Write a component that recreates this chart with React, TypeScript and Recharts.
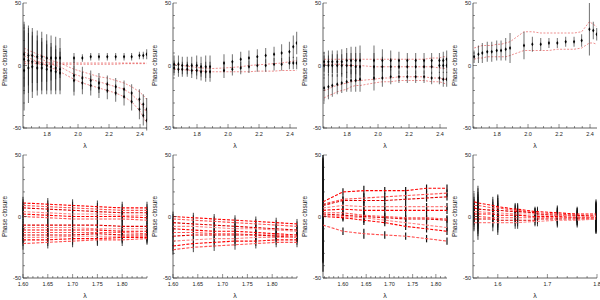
import React from 'react';
import { ComposedChart, Line, XAxis, YAxis, ErrorBar } from 'recharts';

// wavelength grids (microns)
const lamTop = [1.652, 1.68, 1.705, 1.737, 1.766, 1.798, 1.826, 1.856, 1.884, 1.974, 2.028, 2.082, 2.135, 2.189, 2.243, 2.297, 2.346, 2.396, 2.421, 2.443];
const lam5 = [1.60, 1.65, 1.70, 1.75, 1.80, 1.85];
const lam6 = [1.60, 1.641, 1.683, 1.725, 1.767, 1.808, 1.85];
const lam7 = [1.557, 1.60, 1.645, 1.69, 1.735, 1.78, 1.824];
const lam8 = [1.552, 1.56, 1.59, 1.60, 1.635, 1.64, 1.675, 1.68, 1.72, 1.76, 1.798];

// tick labels
const yMajor = [-50, 0, 50];
const xMajorTop = [1.8, 2.0, 2.2, 2.4];
const xMajorH = [1.6, 1.65, 1.7, 1.75, 1.8];
const xMajor8 = [1.6, 1.7, 1.8];

// panel 1 - measured closure phases and models
const p1a = [9, 8, 8, 7, 7, 6, 6, 6, 6, 6, 6, 7, 7, 7, 7, 7, 7, 8, 8, 9];
const p1aE = [26, 24, 22, 21, 20, 19, 18, 17, 16, 4, 3, 3, 3, 3, 3, 3, 3, 3, 3, 4];
const p1b = [5, 4, 3, 2, 1, 0, -1, -2, -3, -8, -10, -12, -14, -15, -17, -19, -22, -27, -31, -35];
const p1bE = [28, 26, 24, 22, 21, 20, 19, 18, 17, 13, 9, 8, 8, 7, 7, 7, 7, 8, 8, 9];
const p1c = [-4, -2, -1, -2, -2, -3, -4, -5, -6, -12, -14, -16, -18, -20, -22, -25, -29, -35, -40, -44];
const p1cE = [32, 28, 25, 22, 21, 20, 19, 18, 17, 12, 9, 8, 8, 7, 7, 7, 7, 8, 8, 8];
const m1a = [3, 3, 3, 3, 2.5, 2.5, 2, 2, 2, 2, 2, 2, 2, 2, 2, 2, 2, 2, 2, 2];
const m1b = [1.5, 1.5, 1.5, 1.5, 1, 1, 1, 1, 1, 1, 1, 1, 1, 1, 1, 1.5, 1.5, 1.5, 1.5, 1.5];
const m1c = [14, 12, 11, 9, 8, 6, 4, 3, 2, -3, -5, -7, -9, -10, -12, -14, -17, -21, -24, -27];
const m1d = [11, 9, 8, 6, 5, 3, 1, 0, -1, -7, -9, -11, -13, -15, -17, -19, -23, -29, -33, -38];
const m1e = [8, 6, 5, 3, 2, 0, -2, -3, -5, -11, -14, -16, -18, -20, -22, -25, -29, -36, -41, -46];

// panel 2
const p2a = [1, 1, 0, 0, 0, 0, -1, -1, -1, 2, 3, 5, 6, 7, 8, 9, 10, 11, 15, 18];
const p2aE = [7, 7, 7, 7, 7, 8, 8, 9, 9, 7, 6, 6, 6, 6, 6, 6, 7, 8, 9, 9];
const p2b = [-2, -3, -3, -3, -4, -4, -5, -5, -5, -4, -3, -2, -1, 0, 0, 1, 1, 2, 2, 2];
const p2bE = [6, 6, 6, 6, 6, 7, 7, 8, 8, 6, 5, 5, 5, 5, 5, 5, 5, 5, 5, 5];
const m2a = [1, 0.5, 0, -0.5, -1, -1.5, -2, -2, -2.5, -2, -1.5, -1, 0, 0.5, 1, 1.5, 2, 3, 3.5, 4];
const m2b = [-3, -3, -3.5, -3.5, -4, -4, -4.5, -4.5, -5, -5, -5, -5, -5, -4.5, -4.5, -4.5, -4, -4, -4, -4];

// panel 3
const p3a = [3, 3, 3, 3, 3, 4, 4, 4, 4, 4, 4, 4, 4, 4, 4, 4, 4, 4, 4, 5];
const p3aE = [8, 9, 9, 9, 10, 10, 11, 11, 12, 12, 9, 8, 7, 6, 6, 6, 6, 6, 7, 7];
const p3b = [0, 0, 0, 0, 0, 0, 0, -1, -1, -1, -1, -1, -1, -1, -1, -1, -1, 0, 0, 0];
const p3bE = [8, 8, 9, 9, 9, 10, 10, 11, 11, 11, 8, 7, 6, 6, 6, 6, 6, 6, 6, 6];
const p3c = [-18, -17, -16, -15, -14, -13, -12, -12, -11, -10, -10, -9, -9, -9, -9, -9, -10, -10, -11, -11];
const p3cE = [11, 10, 9, 8, 8, 8, 9, 9, 10, 10, 7, 6, 5, 5, 5, 5, 5, 5, 6, 6];
const m3a = [5, 5, 5, 5, 5, 5, 5, 5, 5, 5, 5, 5, 5, 5, 5, 5, 6, 6, 7, 7];
const m3b = [1, 1, 1, 1, 1, 0, 0, 0, 0, -1, -1, -1, -1, -1, -1, -1, -1, -2, -2, -3];
const m3c = [-20, -19, -17, -16, -15, -14, -13, -12, -12, -11, -10, -10, -9, -9, -9, -9, -10, -10, -11, -11];
const m3d = [-26, -24, -23, -21, -20, -19, -17, -16, -16, -14, -13, -13, -12, -12, -12, -12, -13, -13, -14, -15];

// panel 4
const p4a = [7, 9, 10, 11, 11, 12, 12, 13, 14, 16, 17, 17, 18, 18, 19, 19, 20, 29, 28, 25];
const p4aE = [5, 7, 8, 8, 8, 8, 8, 9, 12, 11, 6, 5, 4, 4, 4, 4, 5, 21, 7, 5];
const m4a = [14, 15, 16, 16, 16, 17, 17, 18, 19, 27, 27, 26, 26, 26, 26, 26, 27, 35, 33, 31];
const m4b = [5, 6, 6, 7, 7, 7, 7, 7, 8, 12, 12, 12, 12, 13, 13, 13, 14, 18, 18, 17];

// panel 5 - fitted closure phases (one line per triangle)
const f5 = [
  [11, 10, 9, 8, 7, 7],
  [9, 8, 7, 6, 5, 5],
  [7, 6, 5, 4, 3, 3],
  [4, 3, 2, 2, 1, 1],
  [2, 1, 0, 0, 0, -1],
  [0, -1, -2, -2, -2, -3],
  [-7, -7, -7, -7, -8, -8],
  [-9, -9, -9, -10, -10, -10],
  [-11, -11, -11, -11, -12, -12],
  [-13, -13, -13, -13, -13, -14],
  [-15, -15, -15, -14, -15, -15],
  [-17, -17, -16, -16, -16, -16],
  [-19, -19, -18, -18, -17, -17],
  [-22, -21, -20, -19, -19, -18],
];
const e5 = [5, 5, 5, 5, 5, 5];

// panel 6
const f6 = [
  [0, -1, -2, -3, -4, -5, -6],
  [-2, -3, -4, -5, -6, -7, -8],
  [-5, -6, -7, -8, -9, -10, -11],
  [-8, -8, -9, -10, -10, -11, -12],
  [-10, -11, -12, -12, -13, -14, -15],
  [-13, -13, -14, -14, -15, -15, -16],
  [-16, -15, -15, -15, -15, -16, -17],
  [-20, -19, -18, -18, -17, -17, -17],
  [-24, -22, -21, -20, -20, -19, -19],
  [-27, -25, -24, -23, -22, -21, -21],
];
const e6 = [4, 4, 4, 4, 4, 4, 4];

// panel 7
const f7 = [
  [12, 20, 21, 21, 21, 23, 23],
  [10, 14, 15, 16, 17, 18, 19],
  [9, 13, 13, 13, 14, 15, 16],
  [7, 9, 8, 8, 8, 8, 8],
  [5, 6, 5, 5, 5, 5, 5],
  [3, 3, 1, 0, -1, -1, -2],
  [2, 1, 0, -1, -2, -2, -3],
  [1, 0, -1, -3, -5, -7, -9],
  [0, -1, -3, -5, -8, -10, -12],
  [-7, -12, -14, -15, -16, -18, -20],
];
const e7 = [38, 3, 4, 3, 3, 3, 3];

// panel 8
const f8 = [
  [12, 11, 9, 8, 6, 6, 4, 4, 3, 2, 2],
  [9, 9, 7, 7, 5, 5, 3, 3, 2, 1, 1],
  [7, 6, 5, 5, 4, 4, 3, 2, 1, 1, 0],
  [4, 4, 3, 3, 2, 2, 2, 1, 1, 0, 0],
  [2, 2, 2, 1, 1, 1, 0, 0, 0, -1, -1],
  [0, 0, -1, -1, -1, -1, -1, -1, -1, -1, -1],
  [-2, -2, -2, -3, -3, -3, -3, -2, -2, -2, -2],
  [-5, -5, -5, -5, -5, -5, -4, -4, -3, -3, -2],
];
const e8 = [7, 14, 7, 10, 5, 5, 4, 4, 6, 6, 12];

type Pts = { v: number[]; e: number[] };
type Spec = {
  lam: number[];
  domain: [number, number];
  major: number[];
  minorStep: number;
  digits: number;
  points: Pts[];
  models: number[][];
  fits: number[][];
  fitErr: number[];
  topRow: boolean;
};

const topBase = { lam: lamTop, domain: [1.645, 2.445] as [number, number], major: xMajorTop, minorStep: 0.05, digits: 1, fits: [], fitErr: [], topRow: true };

const panels: Spec[] = [
  { ...topBase, points: [{ v: p1a, e: p1aE }, { v: p1b, e: p1bE }, { v: p1c, e: p1cE }], models: [m1a, m1b, m1c, m1d, m1e] },
  { ...topBase, points: [{ v: p2a, e: p2aE }, { v: p2b, e: p2bE }], models: [m2a, m2b] },
  { ...topBase, points: [{ v: p3a, e: p3aE }, { v: p3b, e: p3bE }, { v: p3c, e: p3cE }], models: [m3a, m3b, m3c, m3d] },
  { ...topBase, points: [{ v: p4a, e: p4aE }], models: [m4a, m4b] },
  { lam: lam5, domain: [1.6, 1.85], major: xMajorH, minorStep: 0.01, digits: 2, points: [], models: [], fits: f5, fitErr: e5, topRow: false },
  { lam: lam6, domain: [1.6, 1.85], major: xMajorH, minorStep: 0.01, digits: 2, points: [], models: [], fits: f6, fitErr: e6, topRow: false },
  { lam: lam7, domain: [1.557, 1.824], major: xMajorH, minorStep: 0.01, digits: 2, points: [], models: [], fits: f7, fitErr: e7, topRow: false },
  { lam: lam8, domain: [1.55, 1.8], major: xMajor8, minorStep: 0.02, digits: 1, points: [], models: [], fits: f8, fitErr: e8, topRow: false },
];

const reds = ['#ff0000', '#ff5050', '#e00000', '#ff8080'];
const ink = '#222';
const font = '"Liberation Sans", Arial, sans-serif';

function buildRows(s: Spec) {
  return s.lam.map((lam, i) => {
    const r: any = { lam };
    s.points.forEach((p, k) => { r['p' + k] = p.v[i]; r['pe' + k] = p.e[i]; });
    s.models.forEach((m, k) => { r['m' + k] = m[i]; });
    s.fits.forEach((f, k) => { r['f' + k] = f[i]; r['fe' + k] = s.fitErr[i]; });
    return r;
  });
}

function allTicks(domain: [number, number], major: number[], step: number) {
  const out: number[] = [];
  for (let v = Math.ceil(domain[0] / step - 1e-6) * step; v <= domain[1] + 1e-9; v += step) {
    out.push(Math.round(v * 1000) / 1000);
  }
  major.forEach((m) => { if (!out.some((o) => Math.abs(o - m) < 1e-6)) out.push(m); });
  return out.sort((a, b) => a - b);
}

const isMajor = (list: number[], v: number) => list.some((m) => Math.abs(m - v) < 1e-6);

const mark = (p: any) => {
  if (p.cx == null || p.cy == null) return <g key={'k' + p.index} />;
  const { cx, cy } = p;
  return <path key={'k' + p.index} d={`M${cx},${cy - 2}L${cx + 1.1},${cy}L${cx},${cy + 2}L${cx - 1.1},${cy}Z`} fill="#000" />;
};

function Panel({ s, left, top }: { s: Spec; left: number; top: number }) {
  const data = buildRows(s);
  const xt = allTicks(s.domain, s.major, s.minorStep);
  const yt = allTicks([-50, 50], yMajor, 10);

  const xBottom = (p: any) => {
    const maj = isMajor(s.major, p.payload.value);
    return (
      <g>
        <line x1={p.x} y1={p.y} x2={p.x} y2={p.y - (maj ? 4 : 2)} stroke={ink} strokeWidth={0.5} />
        {maj && <text x={p.x} y={p.y + 8} textAnchor="middle" fontSize={5.5} fill={ink} fontFamily={font}>{p.payload.value.toFixed(s.digits)}</text>}
      </g>
    );
  };
  const xTop = (p: any) => {
    const maj = isMajor(s.major, p.payload.value);
    return <line x1={p.x} y1={p.y} x2={p.x} y2={p.y + (maj ? 4 : 2)} stroke={ink} strokeWidth={0.5} />;
  };
  const yLeft = (p: any) => {
    const maj = isMajor(yMajor, p.payload.value);
    return (
      <g>
        <line x1={p.x} y1={p.y} x2={p.x + (maj ? 4 : 2)} y2={p.y} stroke={ink} strokeWidth={0.5} />
        {maj && <text x={p.x - 2} y={p.y + 2} textAnchor="end" fontSize={5.5} fill={ink} fontFamily={font}>{p.payload.value}</text>}
      </g>
    );
  };
  const yRight = (p: any) => {
    const maj = isMajor(yMajor, p.payload.value);
    return <line x1={p.x} y1={p.y} x2={p.x - (maj ? 4 : 2)} y2={p.y} stroke={ink} strokeWidth={0.5} />;
  };

  return (
    <div style={{ position: 'absolute', left, top, width: 150, height: 150 }}>
      <ComposedChart width={150} height={150} data={data} margin={{ top: s.topRow ? 3 : 5, right: 3, bottom: 0, left: 0 }}>
        <XAxis
          dataKey="lam" type="number" domain={s.domain} allowDataOverflow ticks={xt} interval={0}
          tickSize={0} tickMargin={0} tickLine={false} tick={xBottom} height={22}
          axisLine={{ stroke: ink, strokeWidth: 0.7 }}
          label={{ value: 'λ', position: 'insideBottom', offset: 2, style: { fontSize: 7, fill: ink, fontFamily: font } }}
        />
        <XAxis
          xAxisId="t" orientation="top" dataKey="lam" type="number" domain={s.domain} allowDataOverflow ticks={xt} interval={0}
          tickSize={0} tickMargin={0} tickLine={false} tick={xTop} height={0}
          axisLine={{ stroke: ink, strokeWidth: 0.7 }}
        />
        <YAxis
          type="number" domain={[-50, 50]} allowDataOverflow ticks={yt} interval={0} width={23}
          tickSize={0} tickMargin={0} tickLine={false} tick={yLeft}
          axisLine={{ stroke: ink, strokeWidth: 0.7 }}
          label={{ value: 'Phase closure', angle: -90, position: 'insideLeft', offset: 5, style: { textAnchor: 'middle', fontSize: 6.5, fill: ink, fontFamily: font } }}
        />
        <YAxis
          yAxisId="r" orientation="right" type="number" domain={[-50, 50]} allowDataOverflow ticks={yt} interval={0} width={0}
          tickSize={0} tickMargin={0} tickLine={false} tick={yRight}
          axisLine={{ stroke: ink, strokeWidth: 0.7 }}
        />
        {s.fits.map((_, k) => (
          <Line key={'fe' + k} dataKey={'f' + k} stroke="none" dot={false} activeDot={false} isAnimationActive={false}>
            <ErrorBar dataKey={'fe' + k} width={0} stroke="#111" strokeWidth={s.fitErr[0] > 30 ? 1.2 : 0.8} direction="y" />
          </Line>
        ))}
        {s.fits.map((_, k) => (
          <Line key={'f' + k} dataKey={'f' + k} stroke={reds[k % reds.length]} strokeWidth={1.1} strokeDasharray="3 1.5" dot={false} activeDot={false} isAnimationActive={false} />
        ))}
        {s.models.map((_, k) => (
          <Line key={'m' + k} dataKey={'m' + k} stroke="#e03838" strokeOpacity={0.8} strokeWidth={0.7} strokeDasharray="2 1.5" dot={false} activeDot={false} isAnimationActive={false} />
        ))}
        {s.points.map((_, k) => (
          <Line key={'p' + k} dataKey={'p' + k} stroke="none" dot={mark} activeDot={false} isAnimationActive={false}>
            <ErrorBar dataKey={'pe' + k} width={0} stroke="#111" strokeWidth={0.6} direction="y" />
          </Line>
        ))}
      </ComposedChart>
    </div>
  );
}

export default function App() {
  return (
    <div style={{ position: 'absolute', left: 0, top: 0, width: 600, height: 300, background: '#fff', fontFamily: font }}>
      {panels.map((s, i) => (
        <Panel key={i} s={s} left={(i % 4) * 150} top={Math.floor(i / 4) * 150} />
      ))}
    </div>
  );
}
